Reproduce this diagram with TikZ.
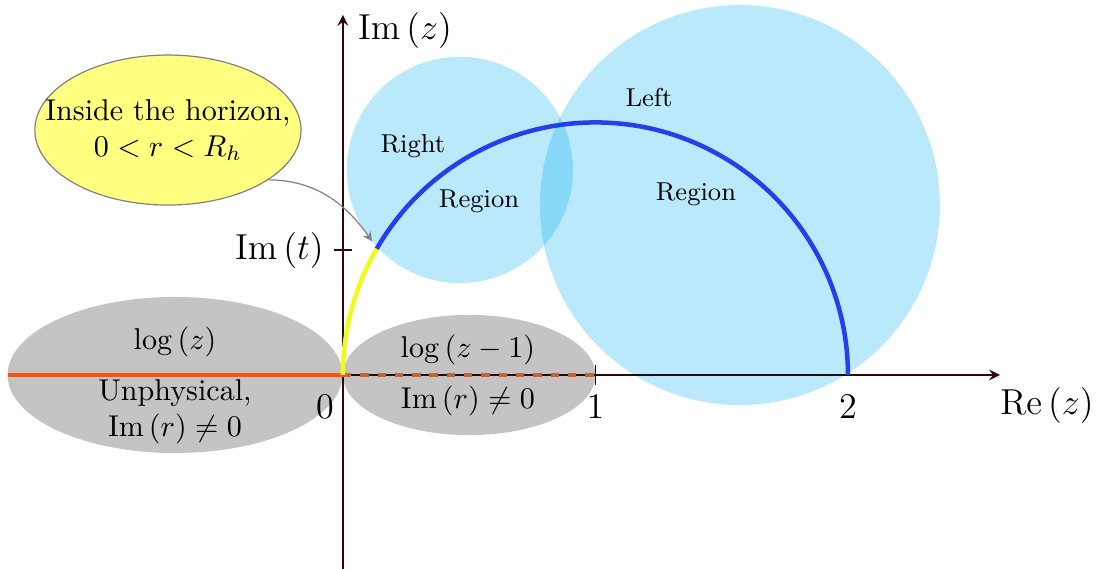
\documentclass[tikz,border=0pt]{standalone}
\usepackage{amsmath}
\usetikzlibrary{positioning,arrows,shapes,calc}
\definecolor{regblue}{RGB}{0,174,239}
\definecolor{cutgray}{RGB}{196,196,196}
\definecolor{arcblue}{RGB}{38,62,235}
\definecolor{arcyellow}{RGB}{240,250,30}
\definecolor{cutred}{RGB}{255,80,20}
\definecolor{cutbrown}{RGB}{200,100,50}
\definecolor{axisbrown}{RGB}{45,10,10}
\definecolor{bubble}{RGB}{255,255,128}
\tikzset{
  axis/.style={draw=axisbrown, semithick, -stealth},
  tick/.style={draw=axisbrown, semithick},
  region/.style={fill=regblue, fill opacity=0.27},
  cutzone/.style={fill=cutgray},
  bigtext/.style={font=\large},
  regtext/.style={font=\fontsize{8.6}{10}\selectfont},
  horizon/.style={draw=gray, fill=bubble},
  pointer/.style={draw=gray, thin, -stealth, shorten >=1pt},
  branch/.style={line width=1.5pt}
}
\begin{document}
\begin{tikzpicture}[x=2.95cm, y=2.95cm]
    \useasboundingbox (-1.358,-0.768) rectangle (3.010,1.485);
    \coordinate (o) at (0,0);
    \coordinate (one) at (1,0);
    \coordinate (two) at (2,0);
    \coordinate (bc) at (-0.693,0.970);

    % branch cuts and regions
    \fill[cutzone] (-0.665,0) ellipse [x radius=0.663, y radius=0.309];
    \fill[cutzone] (0.5,0) ellipse [x radius=0.5, y radius=0.238];
    \fill[region] (0.463,0.812) circle [radius=0.448];
    \fill[region] (1.572,0.673) circle [radius=0.792];

    \filldraw[horizon] (bc) ellipse [x radius=0.527, y radius=0.297];
    \node[align=center] (bub) at (bc) {Inside the horizon,\\ $0<r<R_h$};

    % axes
    \draw[axis] (o) -- (2.602,0) coordinate (rex);
    \draw[axis] (0,-0.768) -- (0,1.426) coordinate (imy);
    \node[bigtext] at (0.246,1.366) {$\operatorname{Im}\left(z\right)$};
    \node[bigtext] at (2.788,-0.119) {$\operatorname{Re}\left(z\right)$};

    \draw[cutred, line width=1.3pt] (-1.325,0) -- (o);
    \draw[cutbrown, line width=1.1pt, dash pattern=on 2.8pt off 2.95pt] (o) -- (one);
    \draw[tick] ($(one)+(0,0.04)$) -- ($(one)+(0,-0.04)$);
    \draw[tick] (-0.034,0.495) coordinate (imt) -- (0.034,0.495);
    \node[bigtext, anchor=east] at (imt) {$\operatorname{Im}\left(t\right)$};

    % the path of z
    \draw[arcyellow, branch] (o) arc [start angle=180, end angle=150, radius=1];
    \draw[arcblue, branch] ($(one)+(150:1)$) arc [start angle=150, end angle=0, radius=1];
    \coordinate (ht) at ($(one)+(150:1)$);

    \draw[pointer] ($(bc)+(-41.6:0.527 and 0.297)$) to[out=0, in=125] ($(ht)+(-0.012,0.02)$);

    % labels
    \node[bigtext] at (-0.071,-0.127) {$0$};
    \node[bigtext] at (1,-0.127) {$1$};
    \node[bigtext] at (2,-0.127) {$2$};
    \node[regtext] at (0.277,0.907) {Right};
    \node[regtext] at (0.539,0.689) {Region};
    \node[regtext] at (1.212,1.097) {Left};
    \node[regtext] at (1.398,0.717) {Region};
    \node at (-0.665,0.131) {$\log\left(z\right)$};
    \node[align=center] at (-0.665,-0.147) {Unphysical,\\ $\operatorname{Im}\left(r\right)\neq0$};
    \node at (0.495,0.099) {$\log\left(z-1\right)$};
    \node at (0.495,-0.103) {$\operatorname{Im}\left(r\right)\neq0$};
\end{tikzpicture}
\end{document}
